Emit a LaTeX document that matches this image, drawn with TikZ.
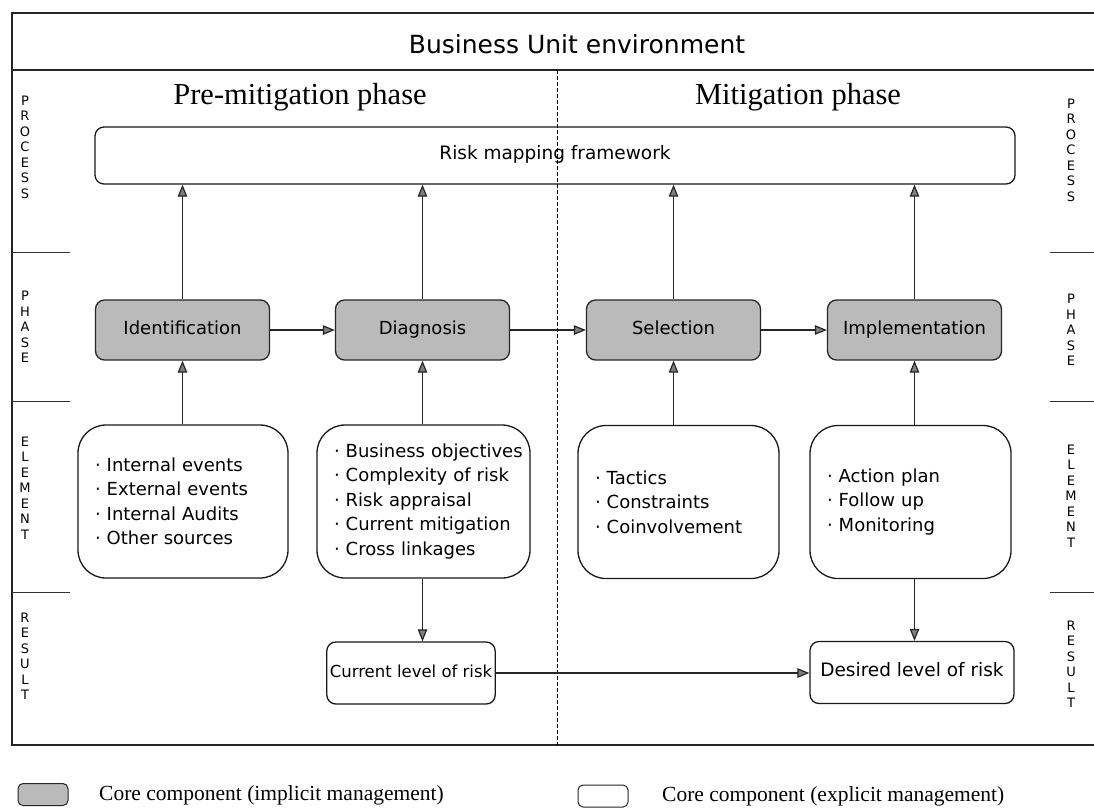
\documentclass[tikz,border=0pt]{standalone}
\usepackage{fontspec}
\setmainfont{Liberation Serif}
\newfontfamily\handfont{DejaVu Sans}
\usetikzlibrary{arrows.meta,calc}
\newcommand{\fsz}[2]{\fontsize{#1pt}{#2pt}\selectfont}
\newcommand{\itm}[1]{\mbox{· #1}}

\tikzset{
  frameline/.style={line width=1.2pt, draw=black!85},
  sepline/.style={line width=0.9pt, draw=black!80},
  onebaseline/.style={text height=0.8em, text depth=0em},
  stagebox/.style={draw=black!85, line width=1.3pt, rounded corners=9pt, fill=black!27,
    minimum width=174pt, minimum height=60pt, inner sep=0pt, onebaseline,
    font=\handfont\fsz{18}{21}},
  elembox/.style={draw=black!90, line width=1.3pt, rounded corners=28pt, minimum height=153pt,
    inner xsep=17pt, inner ysep=0pt, align=left, font=\handfont\fsz{18}{24.5}},
  resbox/.style={draw=black!90, line width=1.3pt, rounded corners=9pt, minimum height=62pt,
    inner xsep=3pt, inner ysep=0pt, onebaseline},
  flow/.style={line width=1.2pt, draw=black!85, -{Triangle[length=12pt,width=9.5pt,fill=black!50]}},
  sidelab/.style={font=\handfont\fsz{13}{15.5}, align=center, inner sep=0pt},
  legendbox/.style={draw=black!85, line width=1pt, rounded corners=5pt, minimum width=50pt,
    minimum height=22pt, inner sep=0pt},
  legendtext/.style={anchor=west, inner sep=0pt, font=\fsz{21.5}{25}},
}

\begin{document}
\begin{tikzpicture}[x=1pt, y=-1pt]
\useasboundingbox (0,0) rectangle (1094,807);

% outer frame (open on the right, where it runs off the page)
\draw[frameline] (1094,13) -- (12,13) -- (12,745) -- (1094,745);
\draw[frameline] (12,70) -- (1094,70);
\draw[line width=1pt, dash pattern=on 4pt off 2pt] (557,70) -- (557,745);

% headings
\node[font=\handfont\fsz{25}{30}] (envtitle) at (577,44) {Business Unit environment};
\node[font=\fsz{30.5}{36}] (pretitle) at (300,97) {Pre-mitigation phase};
\node[font=\fsz{30.5}{36}] (mittitle) at (798,97) {Mitigation phase};

% row labels, left and right
\node[sidelab] (lproc) at (25,147) {P\\R\\O\\C\\E\\S\\S};
\node[sidelab] (lphase) at (25,327) {P\\H\\A\\S\\E};
\node[sidelab] (lelem) at (25,488) {E\\L\\E\\M\\E\\N\\T};
\node[sidelab] (lres) at (25,656) {R\\E\\S\\U\\L\\T};
\node[sidelab] (rproc) at (1071,150) {P\\R\\O\\C\\E\\S\\S};
\node[sidelab] (rphase) at (1071,330) {P\\H\\A\\S\\E};
\node[sidelab] (relem) at (1071,496) {E\\L\\E\\M\\E\\N\\T};
\node[sidelab] (rres) at (1071,664) {R\\E\\S\\U\\L\\T};
\foreach \yy in {252,401,592} {
  \draw[sepline] (12,\yy) -- (70,\yy);
  \draw[sepline] (1050,\yy) -- (1094,\yy);
}

% process
\node[draw=black!90, line width=1.3pt, rounded corners=9pt, minimum width=920pt, minimum height=57pt,
  inner sep=0pt, onebaseline, font=\handfont\fsz{18.5}{22}] (risk) at (555,155.5) {Risk mapping framework};

% phases
\node[stagebox] (ident) at (182.5,330) {Identification};
\node[stagebox] (diag) at (422.5,330) {Diagnosis};
\node[stagebox] (sel) at (673.5,330) {Selection};
\node[stagebox] (impl) at (914.5,330) {Implementation};

% elements
\node[elembox, text width=176pt] (e1) at (183,501.5)
  {\itm{Internal events}\\\itm{External events}\\\itm{Internal Audits}\\\itm{Other sources}};
\node[elembox, text width=179pt] (e2) at (423.5,501.5)
  {\itm{Business objectives}\\\itm{Complexity of risk}\\\itm{Risk appraisal}\\\itm{Current mitigation}\\\itm{Cross linkages}};
\node[elembox, text width=167pt] (e3) at (678.5,502)
  {\itm{Tactics}\\\itm{Constraints}\\\itm{Coinvolvement}};
\node[elembox, text width=167pt] (e4) at (910.5,502)
  {\itm{Action plan}\\\itm{Follow up}\\\itm{Monitoring}};

% results
\node[resbox, minimum width=168pt, font=\handfont\fsz{16.5}{20}] (cur) at (411,673) {Current level of risk};
\node[resbox, minimum width=204pt, font=\handfont\fsz{18.5}{22}] (des) at (912,672.5) {Desired level of risk};

% connectors
\foreach \ph in {ident,diag,sel,impl} {
  \draw[flow] (\ph.north) -- (\ph.north |- risk.south);
}
\draw[flow] (ident.south |- e1.north) -- (ident.south);
\draw[flow] (diag.south |- e2.north) -- (diag.south);
\draw[flow] (sel.south |- e3.north) -- (sel.south);
\draw[flow] (impl.south |- e4.north) -- (impl.south);
\draw[flow] (ident.east) -- (diag.west);
\draw[flow] (diag.east) -- (sel.west);
\draw[flow] (sel.east) -- (impl.west);
\draw[flow] (diag.south |- e2.south) -- (diag.south |- cur.north);
\draw[flow] (impl.south |- e4.south) -- (impl.south |- des.north);
\draw[flow] (cur.east) -- (cur.east -| des.west);

% legend
\node[legendbox, fill=black!27] (keyimp) at (43,794.5) {};
\node[legendtext] (keyimptext) at (99,795) {Core component (implicit management)};
\node[legendbox, fill=white] (keyexp) at (603,796) {};
\node[legendtext] (keyexptext) at (662,796) {Core component (explicit management)};
\end{tikzpicture}
\end{document}
